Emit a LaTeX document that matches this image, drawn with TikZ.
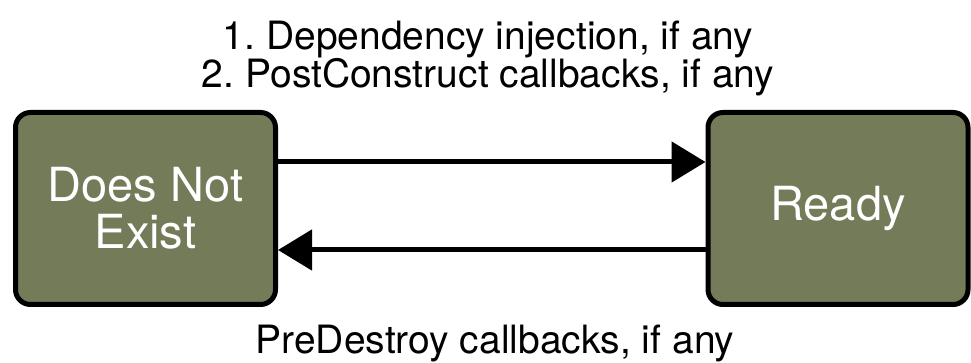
\documentclass[tikz,border=0pt]{standalone}
\usepackage{fontspec}
\setmainfont{TeX Gyre Heros}
\usetikzlibrary{arrows.meta,positioning}
\definecolor{olivebox}{HTML}{737B58}
\frenchspacing
\tikzset{
  state/.style={draw=black, fill=olivebox, line width=5pt, rounded corners=15pt,
    minimum width=260pt, minimum height=192pt, text=white, align=center,
    font=\fontsize{47}{47}\selectfont},
  trans/.style={line width=5pt, -{Triangle[length=34pt,width=40pt]}},
  lbl/.style={inner sep=0pt, align=center, font=\fontsize{39}{38}\selectfont}
}

\begin{document}
\begin{tikzpicture}[x=1pt, y=1pt]
  \useasboundingbox (0,0) rectangle (971,363);
  \draw (145.5,154.5) node[state] (dne) {Does Not\\Exist};
  \draw (838,154.5) node[state] (ready) {Ready};

  % creation and destruction
  \draw[trans] ([yshift=46.5pt]dne.east) -- ([yshift=46.5pt]ready.west);
  \draw[trans] ([yshift=-41.5pt]ready.west) -- ([yshift=-41.5pt]dne.east);

  \draw (488,305) node[lbl] (inject) {1. Dependency injection, if any\\2. PostConstruct callbacks, if any};
  \draw (495,9) node[lbl, anchor=base] (destroy) {PreDestroy callbacks, if any};
\end{tikzpicture}
\end{document}
